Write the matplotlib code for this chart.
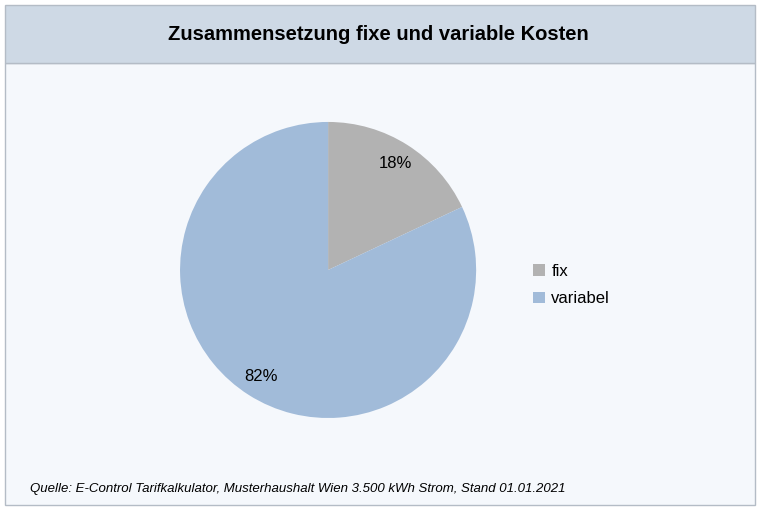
import matplotlib.pyplot as plt
from matplotlib.patches import Rectangle

labels = ['fix', 'variabel']
values = [18, 82]
colors = ['#b2b2b2', '#a1bbd9']

fig = plt.figure(figsize=(7.6, 5.09), dpi=100)
fig.patch.set_facecolor('white')

# body and header
fig.patches.append(Rectangle((5/760, 4/509), 750/760, 442/509, transform=fig.transFigure,
                             facecolor='#f5f8fc', edgecolor='#b4bcc6', lw=1, zorder=-2))
fig.patches.append(Rectangle((5/760, 446/509), 750/760, 58/509, transform=fig.transFigure,
                             facecolor='#ced9e5', edgecolor='#b4bcc6', lw=1, zorder=-2))
fig.text(378/760, 475/509, 'Zusammensetzung fixe und variable Kosten', ha='center', va='center',
         fontsize=14.5, fontweight='bold', family='Liberation Sans')

ax = fig.add_axes([0.4316 - 0.2434, 0.4696 - 0.3635, 0.487, 0.727])
ax.set_zorder(2)
ax.patch.set_visible(False)
wedges, _, autotexts = ax.pie(values, colors=colors, startangle=90, counterclock=False,
                              autopct='%1.0f%%', pctdistance=0.85,
                              textprops={'fontsize': 12, 'family': 'Liberation Sans'})
ax.set_aspect('auto')

fig.legend(wedges, labels, loc='center left', bbox_to_anchor=(518/760, 224/509),
           frameon=False, prop={'family': 'Liberation Sans', 'size': 12},
           handlelength=0.7, handleheight=0.7, handletextpad=0.4, labelspacing=0.75)

fig.text(30/760, 20/509, 'Quelle: E-Control Tarifkalkulator, Musterhaushalt Wien 3.500 kWh Strom, Stand 01.01.2021',
         fontsize=9.5, style='italic', family='Liberation Sans', va='center')

fig.savefig('out.png', dpi=100)
